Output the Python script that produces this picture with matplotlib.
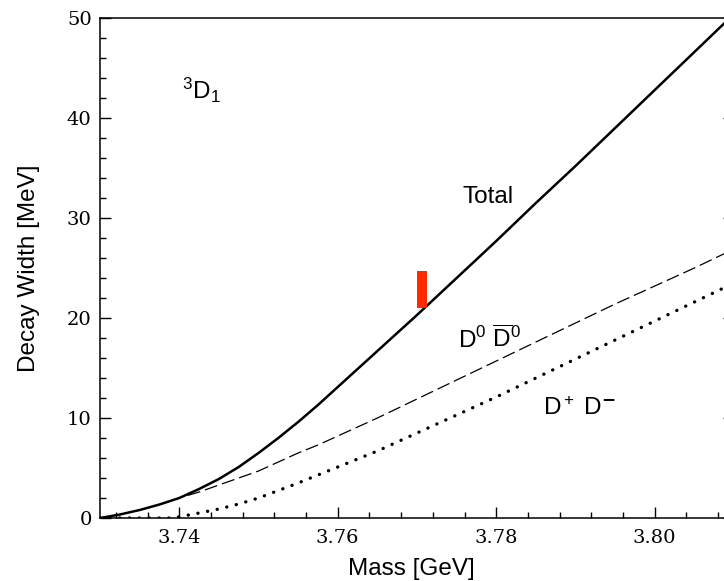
import numpy as np
import matplotlib
matplotlib.use("Agg")
from matplotlib import pyplot as plt
from matplotlib.ticker import MultipleLocator, FormatStrFormatter

plt.rcParams['font.family'] = ['Liberation Sans', 'DejaVu Sans']
plt.rcParams['mathtext.fontset'] = 'custom'
plt.rcParams['mathtext.rm'] = 'Liberation Sans'
plt.rcParams['mathtext.it'] = 'Liberation Sans:italic'

# widths of the 3D1 state vs mass
mass_total = [3.730, 3.7325, 3.735, 3.7375, 3.740, 3.7425, 3.745, 3.7475, 3.750, 3.7525,
              3.755, 3.7575, 3.760, 3.765, 3.770, 3.775, 3.780, 3.785, 3.790, 3.795,
              3.800, 3.805, 3.810]
width_total = [0.0, 0.35, 0.8, 1.35, 2.0, 2.9, 3.9, 5.1, 6.5, 8.0,
               9.6, 11.3, 13.1, 16.7, 20.3, 24.0, 27.7, 31.5, 35.2, 39.0,
               42.8, 46.6, 50.4]

mass_d0 = mass_total
width_d0 = [0.0, 0.35, 0.8, 1.35, 2.0, 2.6, 3.3, 4.0, 4.7, 5.6,
            6.5, 7.3, 8.2, 10.0, 11.9, 13.8, 15.7, 17.6, 19.5, 21.4,
            23.2, 25.0, 26.9]

mass_dp = [3.730, 3.7392, 3.7425, 3.745, 3.7475, 3.750, 3.755, 3.760, 3.765, 3.770,
           3.775, 3.780, 3.785, 3.790, 3.795, 3.800, 3.805, 3.810]
width_dp = [0.0, 0.0, 0.5, 0.9, 1.4, 2.0, 3.5, 5.1, 6.7, 8.5,
            10.3, 12.1, 14.0, 15.9, 17.8, 19.7, 21.6, 23.5]

# measured psi(3770) width band
psi_mass = 3.7706
psi_low = 21.0
psi_high = 24.7

fig = plt.figure(figsize=(7.24, 5.81), dpi=100)
ax = fig.add_axes([0.1381, 0.1084, 0.8757, 0.8606])

ax.plot(mass_total, width_total, color='black', lw=1.8, solid_capstyle='butt')
ax.plot(mass_d0, width_d0, color='black', lw=0.9, dashes=(10.5, 4))
ax.plot(mass_dp, width_dp, color='black', lw=2.4, dashes=(0.05, 2.9),
        dash_capstyle='round')
ax.bar(psi_mass, psi_high - psi_low, width=0.0013, bottom=psi_low,
       color='#ff2a00', zorder=3)

ax.set_xlim(3.73, 3.81)
ax.set_ylim(0, 50)

ax.xaxis.set_major_locator(MultipleLocator(0.02))
ax.xaxis.set_minor_locator(MultipleLocator(0.004))
ax.xaxis.set_major_formatter(FormatStrFormatter('%.2f'))
ax.yaxis.set_major_locator(MultipleLocator(10))
ax.yaxis.set_minor_locator(MultipleLocator(2))

ax.tick_params(which='both', direction='in', top=False, right=True, width=1.0)
ax.tick_params(which='major', length=8)
ax.tick_params(which='minor', length=4.5)
ax.tick_params(axis='x', pad=8)
ax.tick_params(axis='y', pad=6)
for lab in ax.get_xticklabels() + ax.get_yticklabels():
    lab.set_fontfamily('DejaVu Serif')
    lab.set_fontsize(14)
for s in ax.spines.values():
    s.set_linewidth(1.1)

ax.set_xlabel('Mass [GeV]', fontsize=17.5)
ax.xaxis.set_label_coords(0.4905, -0.102)
ax.xaxis.label.set_va('center')
ax.set_ylabel('Decay Width [MeV]', fontsize=17.5)
ax.yaxis.set_label_coords(-0.112, 0.5)
ax.yaxis.label.set_va('center')

ax.text(3.7403, 42.8, r'$^3$D$_1$', fontsize=17.5, va='center')
ax.text(3.7758, 32.1, 'Total', fontsize=17.5, va='center')
ax.text(3.7752, 17.9, r'D$^0$ $\overline{\mathrm{D}}^0$', fontsize=17.5, va='center')
ax.text(3.7859, 10.9, r'D$^+$ D$^{\mathbf{-}}$', fontsize=17.5, va='center')

fig.savefig('out.png', dpi=100)
